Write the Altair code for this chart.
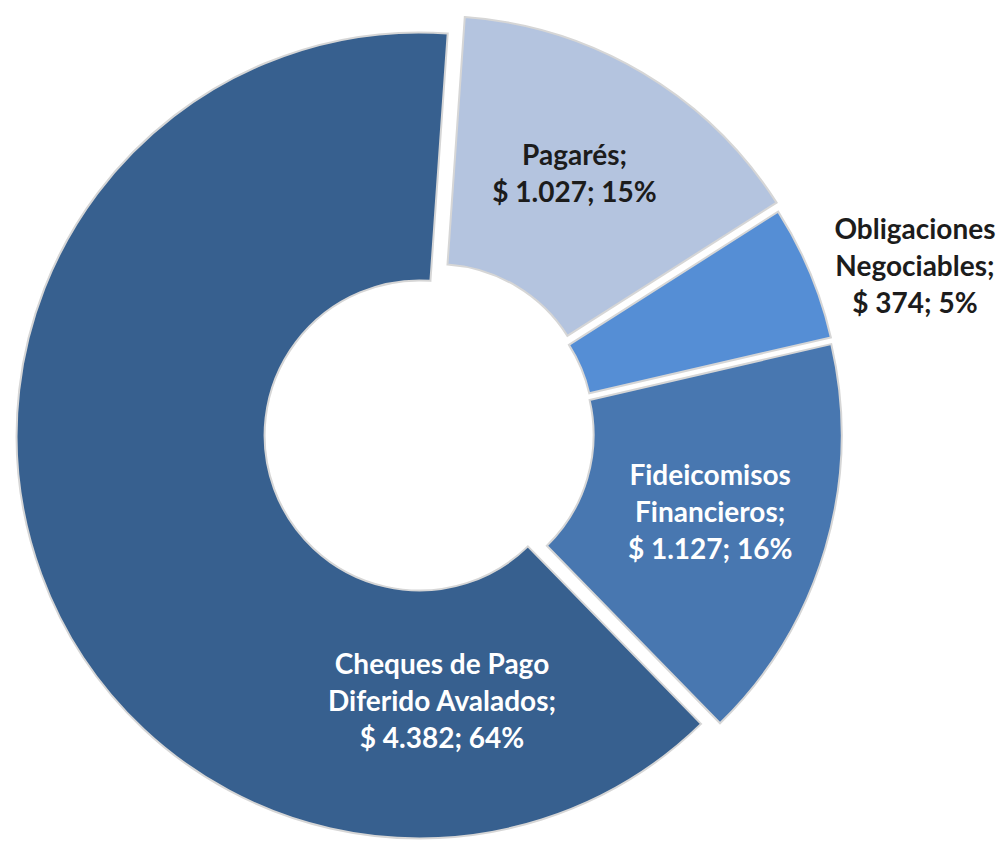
import math
import altair as alt
import pandas as pd

# ---- data ----
categories = ["Pagarés", "Obligaciones Negociables", "Fideicomisos Financieros",
              "Cheques de Pago Diferido Avalados"]
values = [1027, 374, 1127, 4382]
value_labels = ["$ 1.027", "$ 374", "$ 1.127", "$ 4.382"]
pct_labels = ["15%", "5%", "16%", "64%"]
name_lines = ["Pagarés;", "Obligaciones\nNegociables;", "Fideicomisos\nFinancieros;",
              "Cheques de Pago\nDiferido Avalados;"]

# ---- style ----
colors = ["#B4C4DF", "#558ED5", "#4877B0", "#37608F"]
text_colors = ["#1c1c1c", "#1c1c1c", "#ffffff", "#ffffff"]
W, H = 985, 820
CX, CY = 421, 424          # pie centre in plot coordinates
R_OUT, R_IN = 403, 155
EXPLODE = [15, 10, 10, 10]  # per-slice explosion
START = math.radians(4)     # angle of first slice
FS, LH = 28, 37
# label placement (angle in degrees or None for slice middle, radius)
label_place = [(29.5, 280), (71.4, 503), (None, 283), (175.2, 268)]

total = sum(values)
rows = []
acc = START
for i, (c, v) in enumerate(zip(categories, values)):
    a0 = acc
    a1 = acc + 2 * math.pi * v / total
    acc = a1
    mid = (a0 + a1) / 2
    sx = CX + EXPLODE[i] * math.sin(mid)
    sy = CY - EXPLODE[i] * math.cos(mid)
    ang, rad = label_place[i]
    la = mid if ang is None else math.radians(ang)
    label = f"{name_lines[i]}\n{value_labels[i]}; {pct_labels[i]}"
    n = label.count("\n") + 1
    rows.append({
        "cat": c, "value": v, "t0": a0, "t1": a1, "sx": sx, "sy": sy,
        "lx": sx + rad * math.sin(la),
        "ly": sy - rad * math.cos(la) - (n - 1) * LH / 2,
        "label": label,
        "color": colors[i], "tcolor": text_colors[i],
    })
df = pd.DataFrame(rows)

base = alt.Chart(df)

arcs = base.mark_arc(outerRadius=R_OUT, innerRadius=R_IN, stroke="#d6d6d6",
                     strokeWidth=2).encode(
    x=alt.X("sx:Q", scale=None),
    y=alt.Y("sy:Q", scale=None),
    theta=alt.Theta("t0:Q", scale=None),
    theta2="t1:Q",
    color=alt.Color("color:N", scale=None),
)

labels = base.mark_text(font="Lato", fontWeight="bold", fontSize=FS,
                        lineHeight=LH, lineBreak="\n", align="center",
                        baseline="middle").encode(
    x=alt.X("lx:Q", scale=None),
    y=alt.Y("ly:Q", scale=None),
    text="label:N",
    color=alt.Color("tcolor:N", scale=None),
)

chart = (arcs + labels).properties(width=W, height=H, padding=0).configure_view(
    stroke=None)

chart.save("out.html", embed_options={"renderer": "svg", "actions": False})
